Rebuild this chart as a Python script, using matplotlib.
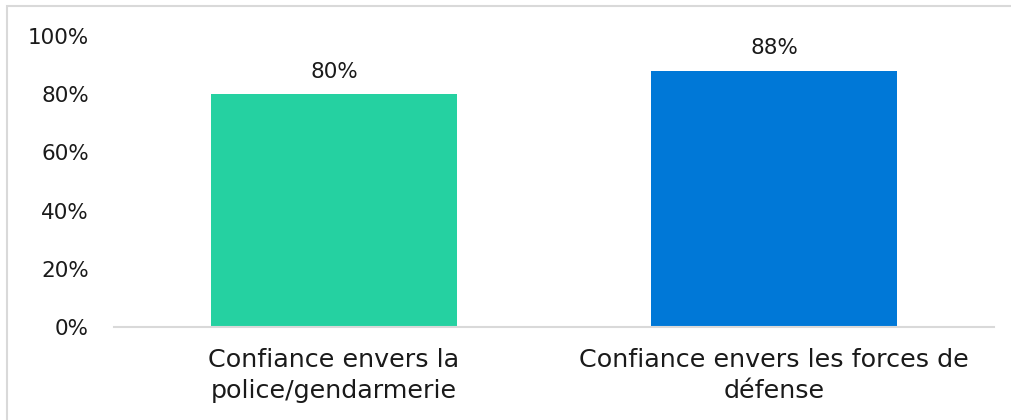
import numpy as np
import matplotlib
matplotlib.use("Agg")
import matplotlib.pyplot as plt
from matplotlib.ticker import PercentFormatter
from matplotlib.patches import Rectangle

# data
categories = ["Confiance envers la\npolice/gendarmerie",
              "Confiance envers les forces de\ndéfense"]
values = [0.80, 0.88]
labels = ["80%", "88%"]
colors = ["#25D1A1", "#0078D7"]

plt.rcParams['font.family'] = ['DejaVu Sans']

fig = plt.figure(figsize=(10.12, 4.2), dpi=100)
ax = fig.add_axes([0.1126, 0.2214, 0.8696, 0.6929])

x = np.arange(len(categories))
bars = ax.bar(x, values, width=0.56, color=colors)
for b, lab in zip(bars, labels):
    ax.annotate(lab, (b.get_x() + b.get_width() / 2, b.get_height()),
                xytext=(0, 9), textcoords="offset points",
                ha="center", va="bottom", fontsize=15.5, color="#1a1a1a")

ax.set_xlim(-0.5, 1.5)
ax.set_ylim(0, 1.0)
ax.set_yticks(np.arange(0, 1.01, 0.2))
ax.yaxis.set_major_formatter(PercentFormatter(1.0, decimals=0))
ax.set_xticks(x)
ax.set_xticklabels(categories, fontsize=18.3, color="#1a1a1a", linespacing=1.38)
ax.tick_params(axis="y", labelsize=15.5, colors="#1a1a1a", length=0, pad=18)
ax.tick_params(axis="x", length=0, pad=15)

for s in ["top", "right", "left"]:
    ax.spines[s].set_visible(False)
ax.spines["bottom"].set_color("#D9D9D9")
ax.spines["bottom"].set_linewidth(1.5)

# light frame around the chart area
fig.patches.append(Rectangle((0.0065, -0.05), 1.2, 1.035, transform=fig.transFigure,
                             fill=False, edgecolor="#D9D9D9", linewidth=1.5))

fig.savefig("out.png", dpi=100)
